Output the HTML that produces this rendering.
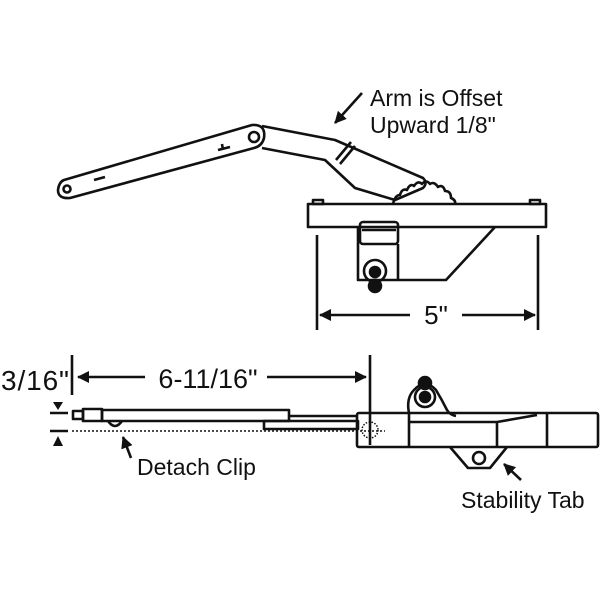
<!DOCTYPE html>
<html><head><style>body{margin:0;background:#fff}svg{display:block}text{font-family:"Liberation Sans",sans-serif;fill:#111}</style></head>
<body>
<svg width="600" height="600" viewBox="0 0 600 600" xmlns="http://www.w3.org/2000/svg">
<defs><marker id="b" markerWidth="12" markerHeight="12" refX="11" refY="6" orient="auto" markerUnits="userSpaceOnUse"><path d="M0,0 L12,6 L0,12z" fill="#111"/></marker></defs>
<g fill="none" stroke="#111" stroke-width="2.6" stroke-linejoin="round">
<path d="M64,180 L252,125 Q266,124 264,138 Q262,146 254,148 L70,198 Q58,199 58,190 Q59,182 64,180z"/>
<circle cx="67" cy="189" r="3.5"/><circle cx="254" cy="137" r="5"/>
<path d="M94,180 L105,177" /><path d="M222,144 L223,150 M218,150 L230,147"/>
<path d="M262,126 L335,140 L423,178 Q428,183 423,188 L395,200 L355,188 L325,160 L262,148"/>
<path d="M336,160 L351,142 M340,164 L355,146"/>
<path d="M393,204 Q395,195 400,195 Q402,188 407,190 Q410,183 414,186 Q418,180 422,184 Q426,179 430,184 Q434,181 438,187 Q443,184 445,191 Q451,191 451,198 Q456,200 455,204"/>
<rect x="308" y="204" width="238" height="23"/>
<rect x="313" y="200" width="10" height="4"/><rect x="530" y="200" width="10" height="4"/>
<path d="M358,227 L358,280 L446,280 L495,227"/>
<rect x="360" y="222" width="38" height="22" rx="3"/>
<path d="M362,230 L396,230 M398,244 L398,280"/>
<circle cx="375" cy="271" r="11"/><circle cx="375" cy="286" r="6" fill="#111"/><circle cx="375" cy="272" r="5" fill="#111"/>
<path d="M317,235 L317,330 M538,235 L538,330"/>
<path d="M410,315 L320,315" marker-end="url(#b)"/><path d="M462,315 L535,315" marker-end="url(#b)"/>
<path d="M362,93 L335,123" marker-end="url(#b)"/>
<path d="M72,355 L72,395 M370,355 L370,445"/>
<path d="M145,377 L78,377" marker-end="url(#b)"/><path d="M267,377 L366,377" marker-end="url(#b)"/>
<rect x="73" y="411" width="10" height="8"/><rect x="83" y="409" width="19" height="12"/>
<rect x="102" y="410" width="187" height="11"/>
<rect x="264" y="421" width="94" height="8"/>
<path d="M289,416 L358,416"/>
<path d="M108,421 Q115,431 122,421"/>
<rect x="357" y="413" width="241" height="34" rx="2"/>
<path d="M409,413 L409,447 M409,422 L497,422 M497,422 L497,447 M547,413 L547,447 M497,422 L537,415"/>
<path d="M409,413 Q406,398 414,390 Q425,378 436,390 Q442,400 447,410 Q450,415 456,416"/>
<circle cx="425" cy="397" r="10"/><circle cx="425" cy="383" r="6" fill="#111"/><circle cx="425" cy="397" r="5" fill="#111"/>
<path d="M450,447 L468,468 L490,468 L507,447"/><circle cx="479" cy="458" r="6"/>
<circle cx="370" cy="430" r="8" stroke-dasharray="1.5 1.5" stroke-width="1.5"/>
<path d="M72,431 L385,431" stroke-dasharray="2 2" stroke-width="1.5"/>
<path d="M50,413 L68,413 M50,431 L68,431"/>
<path d="M131,458 L123,437" marker-end="url(#b)"/>
<path d="M521,480 L504,464" marker-end="url(#b)"/>
</g>
<path d="M53,402 L63,402 L58,410z M53,446 L63,446 L58,436z" fill="#111"/>
<text x="370" y="106" font-size="23">Arm is Offset</text>
<text x="370" y="133" font-size="23">Upward 1/8"</text>
<text x="436" y="324" font-size="26" text-anchor="middle">5"</text>
<text x="1" y="390" font-size="28" textLength="68">3/16"</text>
<text x="208" y="388" font-size="27" text-anchor="middle">6-11/16"</text>
<text x="137" y="475" font-size="23">Detach Clip</text>
<text x="461" y="508" font-size="23">Stability Tab</text>
</svg>
</body></html>
